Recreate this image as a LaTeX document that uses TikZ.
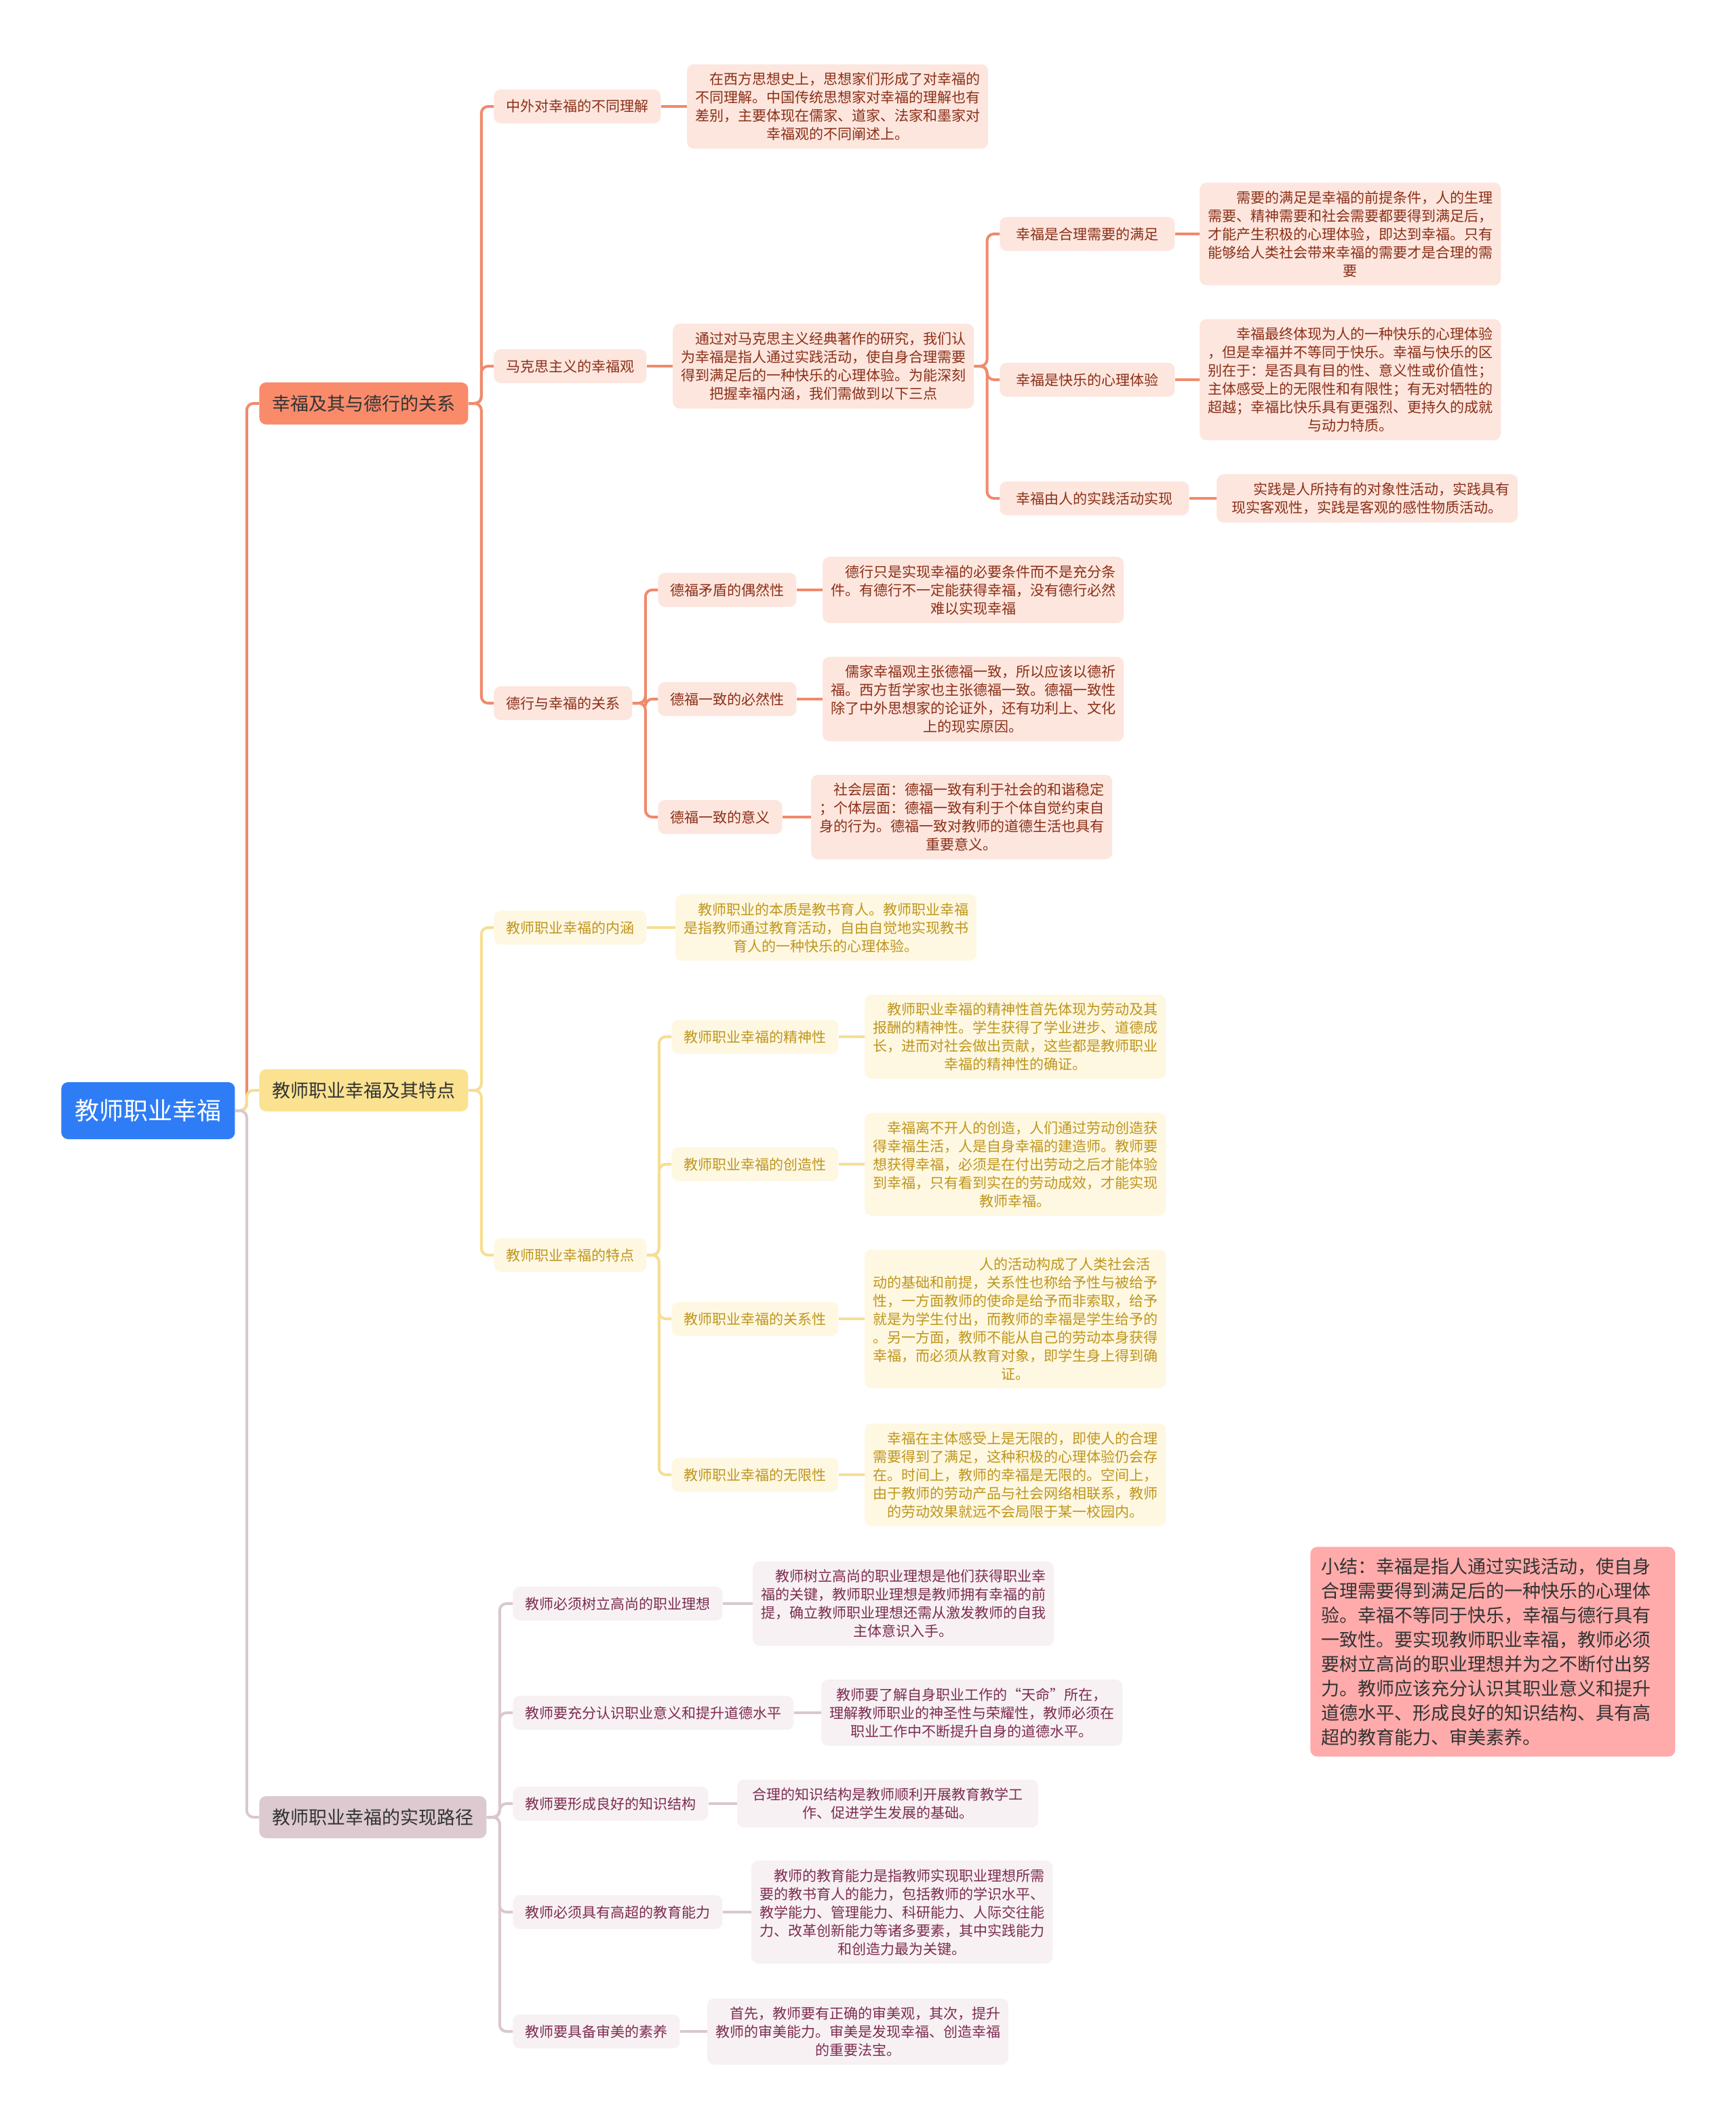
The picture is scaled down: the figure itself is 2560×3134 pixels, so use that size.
\documentclass[tikz,border=0pt]{standalone}
\usepackage{fontspec}
\setmainfont{Noto Sans CJK SC}
\usetikzlibrary{positioning}

\definecolor{rootblue}{HTML}{2F7DF6}
\definecolor{redmain}{HTML}{F98B6B}
\definecolor{redline}{HTML}{F08A6C}
\definecolor{redsoft}{HTML}{FDE6DE}
\definecolor{redtext}{HTML}{8A2F17}
\definecolor{yelmain}{HTML}{FAE291}
\definecolor{yelline}{HTML}{F6DE92}
\definecolor{yelsoft}{HTML}{FEF8E3}
\definecolor{yeltext}{HTML}{BF951C}
\definecolor{greymain}{HTML}{DCCAD0}
\definecolor{greyline}{HTML}{D9C8CD}
\definecolor{greysoft}{HTML}{F7F1F3}
\definecolor{greytext}{HTML}{7D2C50}
\definecolor{notepink}{HTML}{FFABAB}

\begin{document}
\begin{tikzpicture}[x=0.5pt, y=-0.5pt,
    hub/.style = {fill=rootblue, text=white, rounded corners=5pt, font=\fontsize{18}{22}\selectfont, minimum height=42pt, inner xsep=10pt, anchor=west},
    branch/.style = {rounded corners=5pt, text=black!80, font=\fontsize{13.5}{16}\selectfont, minimum height=31pt, inner xsep=9.5pt, anchor=west},
    topic/.style = {rounded corners=5pt, font=\fontsize{10.5}{13}\selectfont, minimum height=25pt, inner xsep=9pt, anchor=west},
    leaf/.style = {rounded corners=5pt, font=\fontsize{10.5}{13.5}\selectfont, text width=212pt, align=center, inner xsep=5pt, inner ysep=6pt},
    note/.style = {fill=notepink, rounded corners=5pt, text=black!80, font=\fontsize{13.5}{18}\selectfont, text width=253pt, align=left, inner xsep=8pt, inner ysep=8pt, anchor=west},
    rsoft/.style = {fill=redsoft, text=redtext},
    ysoft/.style = {fill=yelsoft, text=yeltext},
    gsoft/.style = {fill=greysoft, text=greytext},
    rlink/.style = {draw=redline, line width=2pt, rounded corners=5pt},
    ylink/.style = {draw=yelline, line width=2pt, rounded corners=5pt},
    glink/.style = {draw=greyline, line width=2pt, rounded corners=5pt}]
\useasboundingbox[fill=white] (0,0) rectangle (2560,3134);

\node[hub](hub) at (90,1638) {教师职业幸福};
\node[branch, fill=redmain](rel) at (382,595) {幸福及其与德行的关系};
\node[branch, fill=yelmain](feat) at (382,1608) {教师职业幸福及其特点};
\node[branch, fill=greymain](path) at (382,2680) {教师职业幸福的实现路径};
\foreach \c/\l in {rel/rlink, feat/ylink, path/glink}
    \draw[\l] (hub.east) -- ++(17,0) |- (\c.west);

% 幸福及其与德行的关系
\node[topic, rsoft](zw) at (728,157) {中外对幸福的不同理解};
\node[leaf, rsoft](zwt)[right=19pt of zw]{\hspace*{1em}在西方思想史上，思想家们形成了对幸福的\\不同理解。中国传统思想家对幸福的理解也有\\差别，主要体现在儒家、道家、法家和墨家对\\幸福观的不同阐述上。};
\node[topic, rsoft](mk) at (728,540) {马克思主义的幸福观};
\node[leaf, rsoft](mkt)[right=19pt of mk]{\hspace*{1em}通过对马克思主义经典著作的研究，我们认\\为幸福是指人通过实践活动，使自身合理需要\\得到满足后的一种快乐的心理体验。为能深刻\\把握幸福内涵，我们需做到以下三点};
\node[topic, rsoft, inner xsep=12pt](need) at (1474,345) {幸福是合理需要的满足};
\node[leaf, rsoft](needt)[right=18pt of need]{\hspace*{2em}需要的满足是幸福的前提条件，人的生理\\需要、精神需要和社会需要都要得到满足后，\\才能产生积极的心理体验，即达到幸福。只有\\能够给人类社会带来幸福的需要才是合理的需\\要};
\node[topic, rsoft, inner xsep=12pt](joy) at (1474,560) {幸福是快乐的心理体验};
\node[leaf, rsoft](joyt)[right=18pt of joy]{\hspace*{2em}幸福最终体现为人的一种快乐的心理体验\\，但是幸福并不等同于快乐。幸福与快乐的区\\别在于：是否具有目的性、意义性或价值性；\\主体感受上的无限性和有限性；有无对牺牲的\\超越；幸福比快乐具有更强烈、更持久的成就\\与动力特质。};
\node[topic, rsoft, inner xsep=12pt](act) at (1474,735) {幸福由人的实践活动实现};
\node[leaf, rsoft](actt)[right=20pt of act]{\hspace*{2em}实践是人所持有的对象性活动，实践具有\\现实客观性，实践是客观的感性物质活动。};
\node[topic, rsoft](dx) at (728,1037) {德行与幸福的关系};
\node[topic, rsoft](dh) at (970,870) {德福矛盾的偶然性};
\node[leaf, rsoft](dht)[right=19pt of dh]{\hspace*{1em}德行只是实现幸福的必要条件而不是充分条\\件。有德行不一定能获得幸福，没有德行必然\\难以实现幸福};
\node[topic, rsoft](dy) at (970,1031) {德福一致的必然性};
\node[leaf, rsoft](dyt)[right=19pt of dy]{\hspace*{1em}儒家幸福观主张德福一致，所以应该以德祈\\福。西方哲学家也主张德福一致。德福一致性\\除了中外思想家的论证外，还有功利上、文化\\上的现实原因。};
\node[topic, rsoft](dm) at (970,1205) {德福一致的意义};
\node[leaf, rsoft](dmt)[right=21pt of dm]{\hspace*{1em}社会层面：德福一致有利于社会的和谐稳定\\；个体层面：德福一致有利于个体自觉约束自\\身的行为。德福一致对教师的道德生活也具有\\重要意义。};
\foreach \c in {zw, mk, dx}
    \draw[rlink] (rel.east) -- ++(19,0) |- (\c.west);
\foreach \c in {need, joy, act}
    \draw[rlink] (mkt.east) -- ++(19,0) |- (\c.west);
\foreach \c in {dh, dy, dm}
    \draw[rlink] (dx.east) -- ++(19,0) |- (\c.west);
\foreach \c in {zw, mk, need, joy, act, dh, dy, dm}
    \draw[rlink] (\c.east) -- (\c t.west);

% 教师职业幸福及其特点
\node[topic, ysoft](nh) at (728,1368) {教师职业幸福的内涵};
\node[leaf, ysoft](nht)[right=21pt of nh]{\hspace*{1em}教师职业的本质是教书育人。教师职业幸福\\是指教师通过教育活动，自由自觉地实现教书\\育人的一种快乐的心理体验。};
\node[topic, ysoft](td) at (728,1851) {教师职业幸福的特点};
\node[topic, ysoft](js) at (990,1529) {教师职业幸福的精神性};
\node[leaf, ysoft](jst)[right=19pt of js]{\hspace*{1em}教师职业幸福的精神性首先体现为劳动及其\\报酬的精神性。学生获得了学业进步、道德成\\长，进而对社会做出贡献，这些都是教师职业\\幸福的精神性的确证。};
\node[topic, ysoft](cz) at (990,1717) {教师职业幸福的创造性};
\node[leaf, ysoft](czt)[right=19pt of cz]{\hspace*{1em}幸福离不开人的创造，人们通过劳动创造获\\得幸福生活，人是自身幸福的建造师。教师要\\想获得幸福，必须是在付出劳动之后才能体验\\到幸福，只有看到实在的劳动成效，才能实现\\教师幸福。};
\node[topic, ysoft](gx) at (990,1945) {教师职业幸福的关系性};
\node[leaf, ysoft](gxt)[right=19pt of gx]{\hspace*{7em}人的活动构成了人类社会活\\动的基础和前提，关系性也称给予性与被给予\\性，一方面教师的使命是给予而非索取，给予\\就是为学生付出，而教师的幸福是学生给予的\\。另一方面，教师不能从自己的劳动本身获得\\幸福，而必须从教育对象，即学生身上得到确\\证。};
\node[topic, ysoft](wx) at (990,2175) {教师职业幸福的无限性};
\node[leaf, ysoft](wxt)[right=19pt of wx]{\hspace*{1em}幸福在主体感受上是无限的，即使人的合理\\需要得到了满足，这种积极的心理体验仍会存\\在。时间上，教师的幸福是无限的。空间上，\\由于教师的劳动产品与社会网络相联系，教师\\的劳动效果就远不会局限于某一校园内。};
\foreach \c in {nh, td}
    \draw[ylink] (feat.east) -- ++(19,0) |- (\c.west);
\foreach \c in {js, cz, gx, wx}
    \draw[ylink] (td.east) -- ++(18,0) |- (\c.west);
\foreach \c in {nh, js, cz, gx, wx}
    \draw[ylink] (\c.east) -- (\c t.west);

% 教师职业幸福的实现路径
\node[topic, gsoft](lx) at (756,2365) {教师必须树立高尚的职业理想};
\node[leaf, gsoft](lxt)[right=22pt of lx]{\hspace*{1em}教师树立高尚的职业理想是他们获得职业幸\\福的关键，教师职业理想是教师拥有幸福的前\\提，确立教师职业理想还需从激发教师的自我\\主体意识入手。};
\node[topic, gsoft](yy) at (756,2526) {教师要充分认识职业意义和提升道德水平};
\node[leaf, gsoft](yyt)[right=20pt of yy]{教师要了解自身职业工作的“天命”所在，\\理解教师职业的神圣性与荣耀性，教师必须在\\职业工作中不断提升自身的道德水平。};
\node[topic, gsoft](zs) at (756,2660) {教师要形成良好的知识结构};
\node[leaf, gsoft](zst)[right=21pt of zs]{合理的知识结构是教师顺利开展教育教学工\\作、促进学生发展的基础。};
\node[topic, gsoft](nl) at (756,2820) {教师必须具有高超的教育能力};
\node[leaf, gsoft](nlt)[right=21pt of nl]{\hspace*{1em}教师的教育能力是指教师实现职业理想所需\\要的教书育人的能力，包括教师的学识水平、\\教学能力、管理能力、科研能力、人际交往能\\力、改革创新能力等诸多要素，其中实践能力\\和创造力最为关键。};
\node[topic, gsoft](sm) at (756,2996) {教师要具备审美的素养};
\node[leaf, gsoft](smt)[right=20pt of sm]{\hspace*{1em}首先，教师要有正确的审美观，其次，提升\\教师的审美能力。审美是发现幸福、创造幸福\\的重要法宝。};
\foreach \c in {lx, yy, zs, nl, sm} {
    \draw[glink] (path.east) -- ++(19,0) |- (\c.west);
    \draw[glink] (\c.east) -- (\c t.west);
}

\node[note](sum) at (1932,2436) {小结：幸福是指人通过实践活动，使自身\\合理需要得到满足后的一种快乐的心理体\\验。幸福不等同于快乐，幸福与德行具有\\一致性。要实现教师职业幸福，教师必须\\要树立高尚的职业理想并为之不断付出努\\力。教师应该充分认识其职业意义和提升\\道德水平、形成良好的知识结构、具有高\\超的教育能力、审美素养。};
\end{tikzpicture}
\end{document}
